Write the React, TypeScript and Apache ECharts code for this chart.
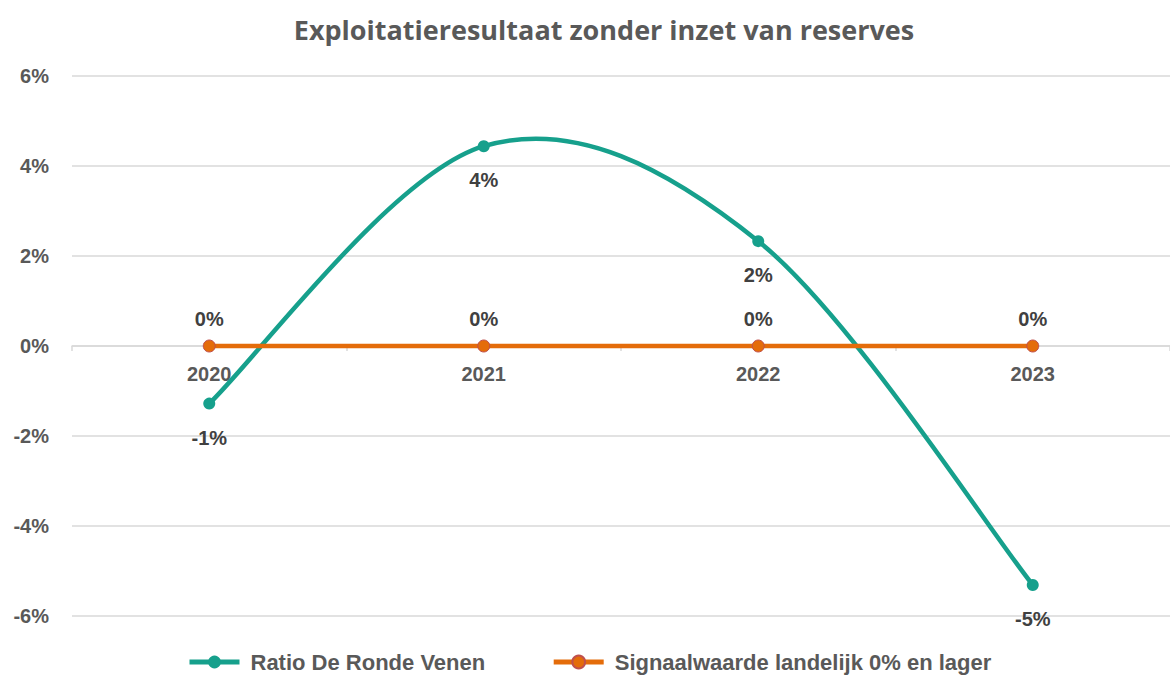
import React, { useEffect, useRef } from "react";
import * as echarts from "echarts";

const categories = ["2020", "2021", "2022", "2023"];
const ratioValues = [-1.28, 4.44, 2.33, -5.31];
const signalValues = [0, 0, 0, 0];
const yTicks = { min: -6, max: 6, interval: 2 };
const seriesNames = ["Ratio De Ronde Venen", "Signaalwaarde landelijk 0% en lager"];

const TEAL = "#16A08C";
const ORANGE = "#E46C0A";
const GREY = "#595959";
const LABEL_FONT = "Liberation Sans, Arial, sans-serif";

export default function App() {
  const ref = useRef<HTMLDivElement>(null);
  useEffect(() => {
    if (!ref.current) return;
    const chart = echarts.init(ref.current, null, { renderer: "svg" });
    const n = ratioValues.length;
    chart.setOption({
      animation: false,
      backgroundColor: "#ffffff",
      title: {
        text: "Exploitatieresultaat zonder inzet van reserves",
        left: 599,
        top: 11,
        textAlign: "center",
        textStyle: {
          fontFamily: "Open Sans",
          fontWeight: "bold",
          fontSize: 27,
          color: GREY,
        },
      },
      legend: {
        top: 645,
        left: 182,
        itemWidth: 50,
        itemHeight: 16,
        itemGap: 66,
        textStyle: {
          fontFamily: LABEL_FONT,
          fontWeight: "bold",
          fontSize: 22,
          lineHeight: 24,
          color: GREY,
          padding: [0, 0, 0, 6],
        },
        data: [
          { name: seriesNames[0], lineStyle: { opacity: 1, width: 5 } },
          { name: seriesNames[1], lineStyle: { width: 5 } },
        ],
      },
      grid: { left: 72, top: 76, width: 1107, height: 540, containLabel: false },
      xAxis: {
        type: "category",
        data: categories,
        boundaryGap: true,
        offset: -270,
        axisLine: { onZero: false, lineStyle: { color: "#D9D9D9", width: 1.5 } },
        axisTick: { show: true, length: 5, lineStyle: { color: "#D9D9D9", width: 1.5 } },
        axisLabel: {
          margin: 18,
          fontFamily: LABEL_FONT,
          fontWeight: "bold",
          fontSize: 20,
          color: GREY,
        },
      },
      yAxis: {
        type: "value",
        min: yTicks.min,
        max: yTicks.max,
        interval: yTicks.interval,
        axisLine: { show: false },
        axisTick: { show: false },
        splitLine: { lineStyle: { color: "#D9D9D9", width: 1.5 } },
        axisLabel: {
          margin: 23,
          formatter: (v: number) => v + "%",
          fontFamily: LABEL_FONT,
          fontWeight: "bold",
          fontSize: 20,
          color: GREY,
        },
      },
      series: [
        {
          name: "curve",
          type: "custom",
          z: 1,
          data: ratioValues.slice(0, -1).map((v, i) => [i, v]),
          encode: { x: 0, y: 1 },
          renderItem: (params: any, api: any) => {
            const i = params.dataIndex;
            const pts = ratioValues.map((v, k) => api.coord([k, v]));
            const p0 = pts[Math.max(i - 1, 0)];
            const p1 = pts[i];
            const p2 = pts[i + 1];
            const p3 = pts[Math.min(i + 2, n - 1)];
            return {
              type: "bezierCurve",
              shape: {
                x1: p1[0],
                y1: p1[1],
                x2: p2[0],
                y2: p2[1],
                cpx1: p1[0] + (p2[0] - p0[0]) / 6,
                cpy1: p1[1] + (p2[1] - p0[1]) / 6,
                cpx2: p2[0] - (p3[0] - p1[0]) / 6,
                cpy2: p2[1] - (p3[1] - p1[1]) / 6,
              },
              style: { stroke: TEAL, lineWidth: 4.5, fill: "none" },
            };
          },
        },
        {
          name: seriesNames[0],
          type: "line",
          z: 3,
          data: ratioValues,
          symbol: "circle",
          symbolSize: 12,
          itemStyle: { color: TEAL },
          lineStyle: { color: TEAL, width: 4.5, opacity: 0 },
          label: {
            show: true,
            position: "bottom",
            distance: 18,
            formatter: (p: any) => Math.round(p.value) + "%",
            fontFamily: LABEL_FONT,
            fontWeight: "bold",
            fontSize: 20,
            color: "#404040",
          },
        },
        {
          name: seriesNames[1],
          type: "line",
          z: 4,
          data: signalValues,
          symbol: "circle",
          symbolSize: 12,
          itemStyle: { color: ORANGE, borderColor: "#C0504D", borderWidth: 1 },
          lineStyle: { color: ORANGE, width: 4.5 },
          label: {
            show: true,
            position: "top",
            distance: 11,
            formatter: (p: any) => Math.round(p.value) + "%",
            fontFamily: LABEL_FONT,
            fontWeight: "bold",
            fontSize: 20,
            color: "#404040",
          },
        },
      ],
    });
    return () => chart.dispose();
  }, []);
  return (
    <div
      ref={ref}
      style={{ position: "fixed", left: 0, top: 0, width: 1170, height: 677, overflow: "hidden" }}
    />
  );
}
